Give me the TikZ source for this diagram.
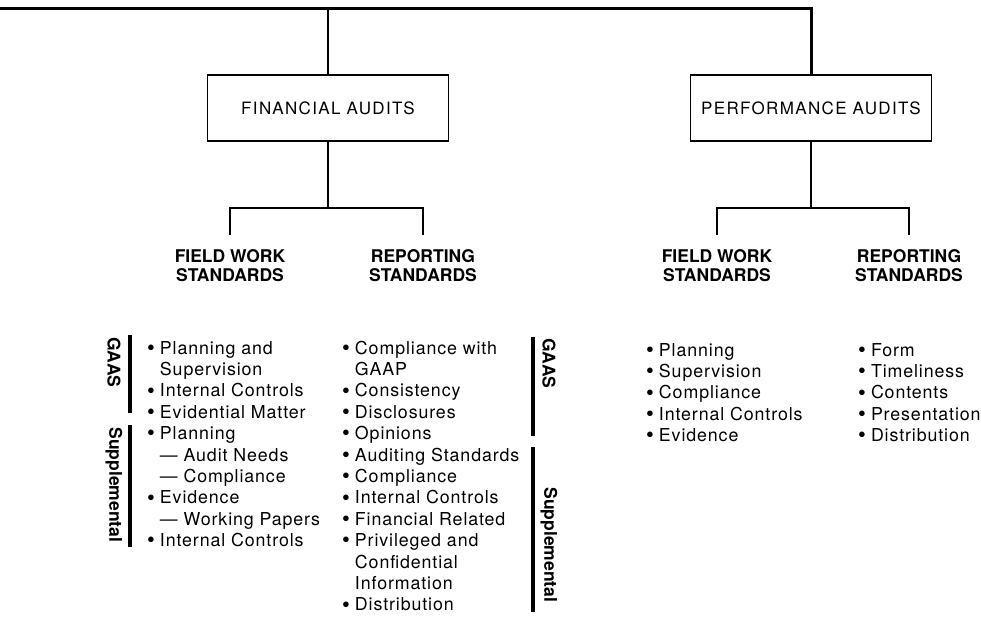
\documentclass[tikz,border=0pt]{standalone}
\usepackage{fontspec}
\setmainfont{TeX Gyre Heros}
\newfontfamily\listfont{TeX Gyre Heros}[LetterSpace=5]
\newfontfamily\boxfont{TeX Gyre Heros}[LetterSpace=8]
\newcommand{\bul}{\raisebox{-1.3pt}{\scalebox{1.25}{\textbullet}} &}
\begin{document}
\begin{tikzpicture}[x=1pt,y=-1pt,
  box/.style={draw,line width=1.6pt,minimum width=241pt,minimum height=66pt,inner sep=0pt,font=\boxfont\fontsize{17}{20}\selectfont},
  head/.style={align=center,anchor=north,inner xsep=0pt,inner ysep=14pt,font=\fontsize{17.5}{19}\selectfont\bfseries},
  items/.style={anchor=base west,inner sep=0pt,font=\listfont\fontsize{17.8}{21.4}\selectfont},
  side/.style={rotate=-90,inner sep=0pt,font=\fontsize{17.5}{20}\selectfont\bfseries},
  stem/.style={line width=2pt},
  bar/.style={line width=2.5pt},
  gbar/.style={line width=4pt}]
\useasboundingbox (0,0) rectangle (981,617);

% the two audit boxes
\node[box] (fin) at (328,108) {FINANCIAL AUDITS};
\node[box] (perf) at (811,108) {PERFORMANCE AUDITS};
\coordinate (topL) at (0,9);
\draw[line width=3pt] (topL) -| (perf.north);
\draw[stem] (fin.north) -- (fin.north |- topL);

% standards headings
\node[head] (fwF) at (230,235) {FIELD WORK\\STANDARDS};
\node[head] (rpF) at (423,235) {REPORTING\\STANDARDS};
\node[head] (fwP) at (717,235) {FIELD WORK\\STANDARDS};
\node[head] (rpP) at (909,235) {REPORTING\\STANDARDS};

\draw[stem] (fin.south) -- ++(0,66) coordinate (finJ);
\draw[bar] (fwF.north) |- (finJ) -| (rpF.north);
\draw[stem] (perf.south) -- ++(0,66) coordinate (perfJ);
\draw[bar] (fwP.north) |- (perfJ) -| (rpP.north);

% lists
\node[items] (lstFW) at (147,354) {\begin{tabular}[t]{@{}l@{\hspace{5pt}}l@{}}
  \bul Planning and\\
  & Supervision\\
  \bul Internal Controls\\
  \bul Evidential Matter\\
  \bul Planning\\
  & — Audit Needs\\
  & — Compliance\\
  \bul Evidence\\
  & — Working Papers\\
  \bul Internal Controls
\end{tabular}};
\node[items] (lstRP) at (342,354) {\begin{tabular}[t]{@{}l@{\hspace{5pt}}l@{}}
  \bul Compliance with\\
  & GAAP\\
  \bul Consistency\\
  \bul Disclosures\\
  \bul Opinions\\
  \bul Auditing Standards\\
  \bul Compliance\\
  \bul Internal Controls\\
  \bul Financial Related\\
  \bul Privileged and\\
  & Confidential\\
  & Information\\
  \bul Distribution
\end{tabular}};
\node[items] (lstFWP) at (646,356) {\begin{tabular}[t]{@{}l@{\hspace{5pt}}l@{}}
  \bul Planning\\
  \bul Supervision\\
  \bul Compliance\\
  \bul Internal Controls\\
  \bul Evidence
\end{tabular}};
\node[items] (lstRPP) at (858,356) {\begin{tabular}[t]{@{}l@{\hspace{5pt}}l@{}}
  \bul Form\\
  \bul Timeliness\\
  \bul Contents\\
  \bul Presentation\\
  \bul Distribution
\end{tabular}};

% GAAS / Supplemental brackets
\draw[gbar] (130,335) -- (130,413);
\draw[gbar] (130,425) -- (130,547);
\node[side,anchor=west] (gaasL) at (114,337) {GAAS};
\node[side] (supL) at (114,485) {Supplemental};
\draw[gbar] (533,337) -- (533,436);
\draw[gbar] (533,447) -- (533,612);
\node[side,anchor=west] (gaasR) at (549,338) {GAAS};
\node[side] (supR) at (549,545) {Supplemental};
\end{tikzpicture}
\end{document}
